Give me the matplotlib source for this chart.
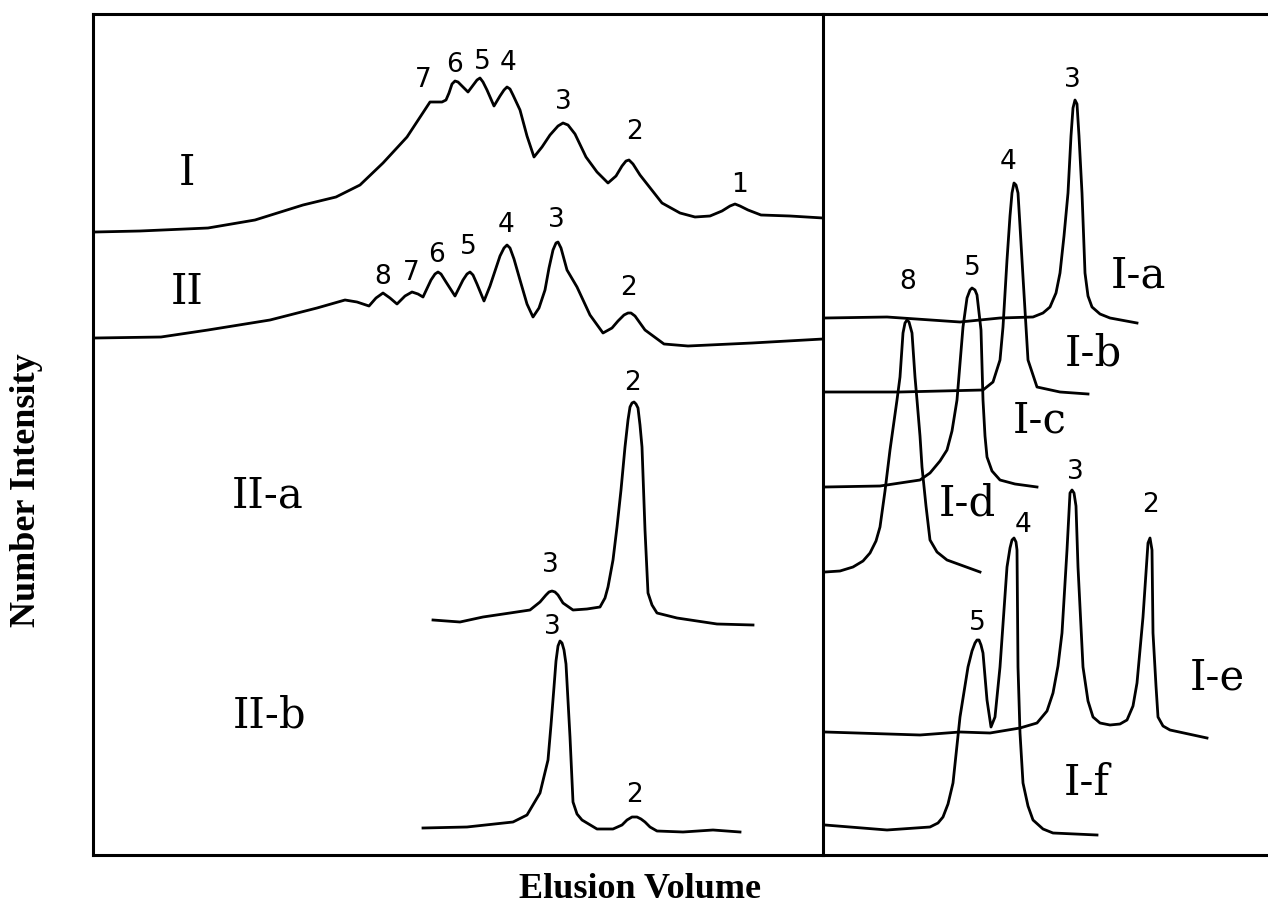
"""
Elution profiles of fractions I / II (left) and sub-fractions I-a..I-f (right).
Traces were read off the scanned figure; x = elution volume, y = number intensity
(both in arbitrary units, offsets between traces included).
"""
import matplotlib
matplotlib.use("Agg")
import matplotlib.pyplot as plt

# ---------------------------------------------------------------------------
# Traces: left panel
# ---------------------------------------------------------------------------
vol_I = [95, 140, 208, 255, 303, 336, 360, 383, 407, 430, 442, 446, 449, 452,
         455, 458, 461, 468, 474, 477, 480, 483, 487, 494, 500, 504, 507, 510,
         513, 520, 527, 534, 542, 550, 558, 563, 568, 575, 586, 597, 608, 616,
         622, 626, 629, 633, 640, 662, 680, 695, 710, 722, 730, 735, 740, 748,
         761, 790, 823]
sig_I = [684, 685, 688, 696, 711, 719, 731, 753, 779, 814, 814, 816, 823, 832,
         835, 834, 831, 824, 832, 836, 838, 834, 826, 810, 820, 826, 829, 827,
         821, 806, 780, 759, 769, 781, 790, 793, 791, 782, 759, 744, 733, 740,
         750, 755, 756, 752, 741, 713, 703, 699, 700, 705, 710, 712, 710, 706,
         701, 700, 698]

vol_II = [95, 161, 208, 270, 317, 345, 357, 369, 376, 383, 390, 397, 405, 412,
          418, 423, 431, 435, 438, 441, 446, 455, 463, 467, 470, 473, 477, 484,
          490, 496, 500, 504, 507, 510, 514, 520, 527, 533, 539, 545, 549, 553,
          556, 558, 561, 567, 577, 590, 603, 612, 618, 624, 628, 631, 635, 645,
          664, 688, 752, 823]
sig_II = [578, 579, 586, 596, 608, 616, 614, 610, 618, 623, 618, 612, 620, 624,
          622, 619, 636, 642, 644, 642, 634, 620, 636, 642, 644, 641, 632, 615,
          630, 648, 660, 668, 671, 668, 657, 636, 612, 599, 608, 626, 648, 666,
          673, 674, 668, 646, 629, 601, 583, 588, 595, 601, 603, 603, 600, 586,
          572, 570, 573, 577]

vol_IIa = [433, 460, 483, 510, 530, 540, 546, 549, 552, 555, 558, 563, 573, 587,
           600, 605, 608, 613, 617, 621, 625, 628, 630, 632, 634, 636, 638, 640,
           642, 645, 648, 652, 657, 677, 717, 753]
sig_IIa = [296, 294, 299, 303, 306, 314, 321, 324, 325, 324, 321, 313, 306, 307,
           309, 318, 329, 356, 389, 426, 469, 496, 509, 513, 514, 512, 508, 491,
           469, 386, 323, 311, 303, 298, 292, 291]

vol_IIb = [423, 467, 513, 527, 540, 548, 551, 554, 556, 558, 560, 562, 564, 566,
           570, 573, 577, 582, 597, 613, 622, 627, 632, 637, 641, 645, 650, 657,
           683, 713, 740]
sig_IIb = [88, 89, 94, 101, 123, 156, 191, 229, 255, 270, 275, 273, 266, 252,
           179, 114, 102, 96, 87, 87, 91, 96, 99, 99, 97, 94, 89, 85, 84, 86, 84]

# ---------------------------------------------------------------------------
# Traces: right panel
# ---------------------------------------------------------------------------
vol_Ia = [825, 887, 960, 1000, 1033, 1043, 1050, 1056, 1060, 1064, 1068, 1071,
          1073, 1075, 1077, 1079, 1082, 1085, 1088, 1092, 1100, 1110, 1137]
sig_Ia = [598, 599, 594, 598, 599, 603, 609, 623, 643, 680, 723, 780, 808, 816,
          812, 780, 723, 643, 620, 609, 602, 598, 593]

vol_Ib = [825, 900, 983, 993, 1000, 1003, 1007, 1010, 1012, 1014, 1016, 1018,
          1020, 1023, 1028, 1037, 1060, 1088]
sig_Ib = [524, 524, 526, 534, 556, 589, 656, 700, 723, 733, 731, 723, 690, 639,
          556, 529, 524, 522]

vol_Ic = [825, 880, 920, 930, 940, 947, 952, 957, 963, 967, 970, 972, 975, 977,
          981, 983, 985, 987, 992, 1000, 1015, 1037]
sig_Ic = [429, 430, 436, 443, 455, 466, 485, 516, 589, 618, 626, 628, 626, 621,
          586, 516, 480, 459, 445, 436, 432, 429]

vol_Id = [825, 840, 853, 863, 870, 876, 880, 885, 890, 897, 900, 903, 905, 907,
          909, 912, 915, 917, 920, 922, 926, 930, 937, 947, 980]
sig_Id = [344, 345, 349, 355, 363, 375, 389, 425, 466, 516, 539, 583, 593, 596,
          594, 583, 539, 516, 480, 449, 410, 376, 364, 356, 344]

vol_Ie = [825, 920, 960, 990, 1020, 1037, 1047, 1053, 1058, 1062, 1067, 1070,
          1072, 1074, 1076, 1078, 1083, 1088, 1093, 1100, 1110, 1120, 1127, 1133,
          1137, 1143, 1148, 1150, 1152, 1153, 1156, 1158, 1163, 1170, 1207]
sig_Ie = [184, 181, 184, 183, 188, 193, 205, 223, 250, 283, 366, 423, 426, 423,
          410, 349, 249, 215, 199, 193, 191, 192, 196, 210, 233, 299, 373, 378,
          366, 283, 230, 199, 190, 186, 178]

vol_If = [825, 887, 930, 938, 943, 948, 953, 960, 968, 972, 975, 977, 979, 981,
          983, 987, 991, 995, 1000, 1007, 1010, 1012, 1014, 1016, 1017, 1018,
          1020, 1023, 1028, 1033, 1043, 1053, 1097]
sig_If = [91, 86, 89, 93, 99, 112, 133, 199, 249, 265, 273, 276, 276, 271, 263,
          216, 189, 199, 249, 349, 368, 376, 378, 374, 366, 249, 183, 133, 110,
          96, 87, 83, 81]

# ---------------------------------------------------------------------------
# Labels (text, volume, intensity)
# ---------------------------------------------------------------------------
left_names = [("I", 187, 743), ("II", 187, 624), ("II-a", 268, 421),
              ("II-b", 270, 201)]
left_peaks = [("7", 423, 836), ("6", 454, 851), ("5", 482, 854), ("4", 508, 853),
              ("3", 563, 814), ("2", 634, 784), ("1", 740, 731),
              ("8", 383, 639), ("7", 411, 643), ("6", 437, 661), ("5", 468, 669),
              ("4", 506, 691), ("3", 556, 696), ("2", 629, 628),
              ("3", 550, 351), ("2", 633, 533),
              ("3", 552, 289), ("2", 635, 121)]

right_names = [("I-a", 1138, 641), ("I-b", 1093, 563), ("I-c", 1040, 496),
               ("I-d", 967, 413), ("I-e", 1217, 239), ("I-f", 1087, 133)]
right_peaks = [("3", 1072, 836), ("4", 1008, 754), ("5", 972, 648), ("8", 908, 634),
               ("3", 1075, 444), ("2", 1150, 411), ("4", 1023, 391), ("5", 977, 293)]

# ---------------------------------------------------------------------------
# Figure
# ---------------------------------------------------------------------------
W, H, DPI = 1268, 916, 100
LW_TRACE = 2.0
LW_FRAME = 2.2
NAME_FONT = dict(family="DejaVu Serif", fontsize=30)
PEAK_FONT = dict(family=["Liberation Sans Narrow", "DejaVu Sans"], fontsize=19)

fig = plt.figure(figsize=(W / DPI, H / DPI), dpi=DPI)

bottom, top = 855, 14
ax_r = fig.add_axes([823 / W, (H - bottom) / H, (1290 - 823) / W, (bottom - top) / H])
ax_l = fig.add_axes([93 / W, (H - bottom) / H, (823 - 93) / W, (bottom - top) / H])
ax_r.set_facecolor("none")
ax_l.set_facecolor("none")

ax_l.set_xlim(93, 823)
ax_r.set_xlim(823, 1290)
for ax in (ax_l, ax_r):
    ax.set_ylim(H - bottom, H - top)
    ax.set_xticks([])
    ax.set_yticks([])
    for sp in ax.spines.values():
        sp.set_linewidth(LW_FRAME)
ax_r.spines["left"].set_visible(False)

for v, s in [(vol_I, sig_I), (vol_II, sig_II), (vol_IIa, sig_IIa), (vol_IIb, sig_IIb)]:
    ax_l.plot(v, s, color="black", lw=LW_TRACE, solid_joinstyle="round")

for v, s in [(vol_Ia, sig_Ia), (vol_Ib, sig_Ib), (vol_Ic, sig_Ic),
             (vol_Id, sig_Id), (vol_Ie, sig_Ie), (vol_If, sig_If)]:
    ax_r.plot(v, s, color="black", lw=LW_TRACE, solid_joinstyle="round")

for ax, names, peaks in [(ax_l, left_names, left_peaks), (ax_r, right_names, right_peaks)]:
    for txt, x, y in names:
        ax.text(x, y, txt, ha="center", va="center", **NAME_FONT)
    for txt, x, y in peaks:
        ax.text(x, y, txt, ha="center", va="center", **PEAK_FONT)

fig.text(27 / W, 1 - 490 / H, "Number Intensity", rotation=90, ha="center",
         va="center", family="Liberation Serif", fontweight="bold", fontsize=26)
fig.text(640 / W, 1 - 890 / H, "Elusion Volume", ha="center", va="center",
         family="Liberation Serif", fontweight="bold", fontsize=26)

fig.savefig("out.png", dpi=DPI)
